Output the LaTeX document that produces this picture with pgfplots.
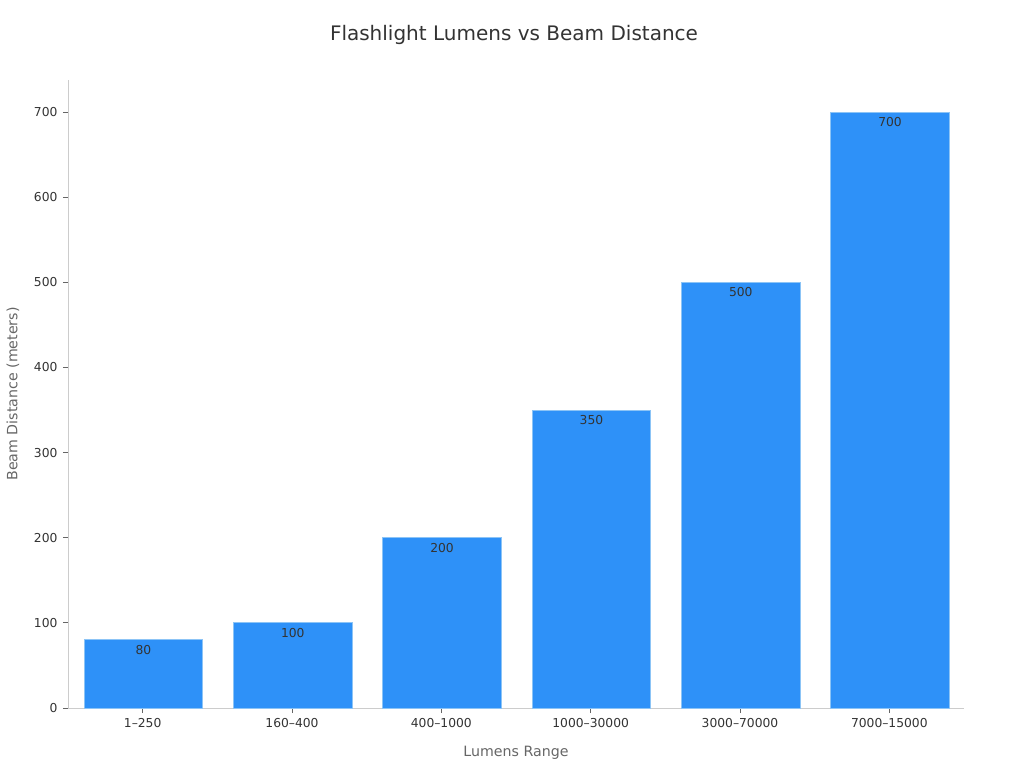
\documentclass[border=0pt]{standalone}
\usepackage{pgfplots}
\pgfplotsset{compat=1.18}
\usepackage{fontspec}
\setmainfont{DejaVu Sans}
\definecolor{barblue}{HTML}{2E91F8}
\definecolor{baredge}{HTML}{8CC4F6}
\definecolor{axgray}{HTML}{CCCCCC}
\definecolor{lblgray}{HTML}{666666}
\definecolor{txtdark}{HTML}{333333}
\begin{document}
\begin{tikzpicture}[x=1pt,y=1pt]
\useasboundingbox (-68,-60) rectangle (956,708);
\begin{axis}[
  at={(0,0)}, anchor=south west,
  scale only axis, width=896pt, height=628pt,
  xmin=-0.5, xmax=5.5, ymin=0, ymax=737.6,
  axis lines*=left,
  axis line style={axgray, line width=0.8pt},
  ybar, bar width=0.795, bar shift=0.005,
  xtick=data,
  xticklabels={1–250,160–400,400–1000,1000–30000,3000–70000,7000–15000},
  ytick={0,100,...,700},
  tick style={lblgray, line width=0.8pt},
  major tick length=5pt,
  tick align=outside,
  /pgf/number format/assume math mode=true,
  ticklabel style={font=\fontsize{12.3}{14}\selectfont, text=txtdark},
  yticklabel style={xshift=-2pt},
  xticklabel style={yshift=-2pt},
  xlabel={Lumens Range},
  ylabel={Beam Distance (meters)},
  label style={font=\fontsize{14.2}{16}\selectfont, text=lblgray},
  xlabel style={at={(axis description cs:0.5,0)}, anchor=center, yshift=-45pt},
  ylabel style={at={(axis description cs:-0.0615,0.5)}, anchor=center},
  title={Flashlight Lumens vs Beam Distance},
  title style={font=\fontsize{20}{23}\selectfont, text=txtdark, at={(axis description cs:0.5,1)}, anchor=center, yshift=39pt, xshift=-2pt},
  clip=false,
]
\addplot[fill=barblue, draw=baredge, line width=0.8pt,
  nodes near coords,
  nodes near coords style={anchor=north, font=\fontsize{12.3}{14}\selectfont, text=txtdark, yshift=-1.5pt}]
  coordinates {(0,80) (1,100) (2,200) (3,350) (4,500) (5,700)};
\end{axis}
\end{tikzpicture}
\end{document}
